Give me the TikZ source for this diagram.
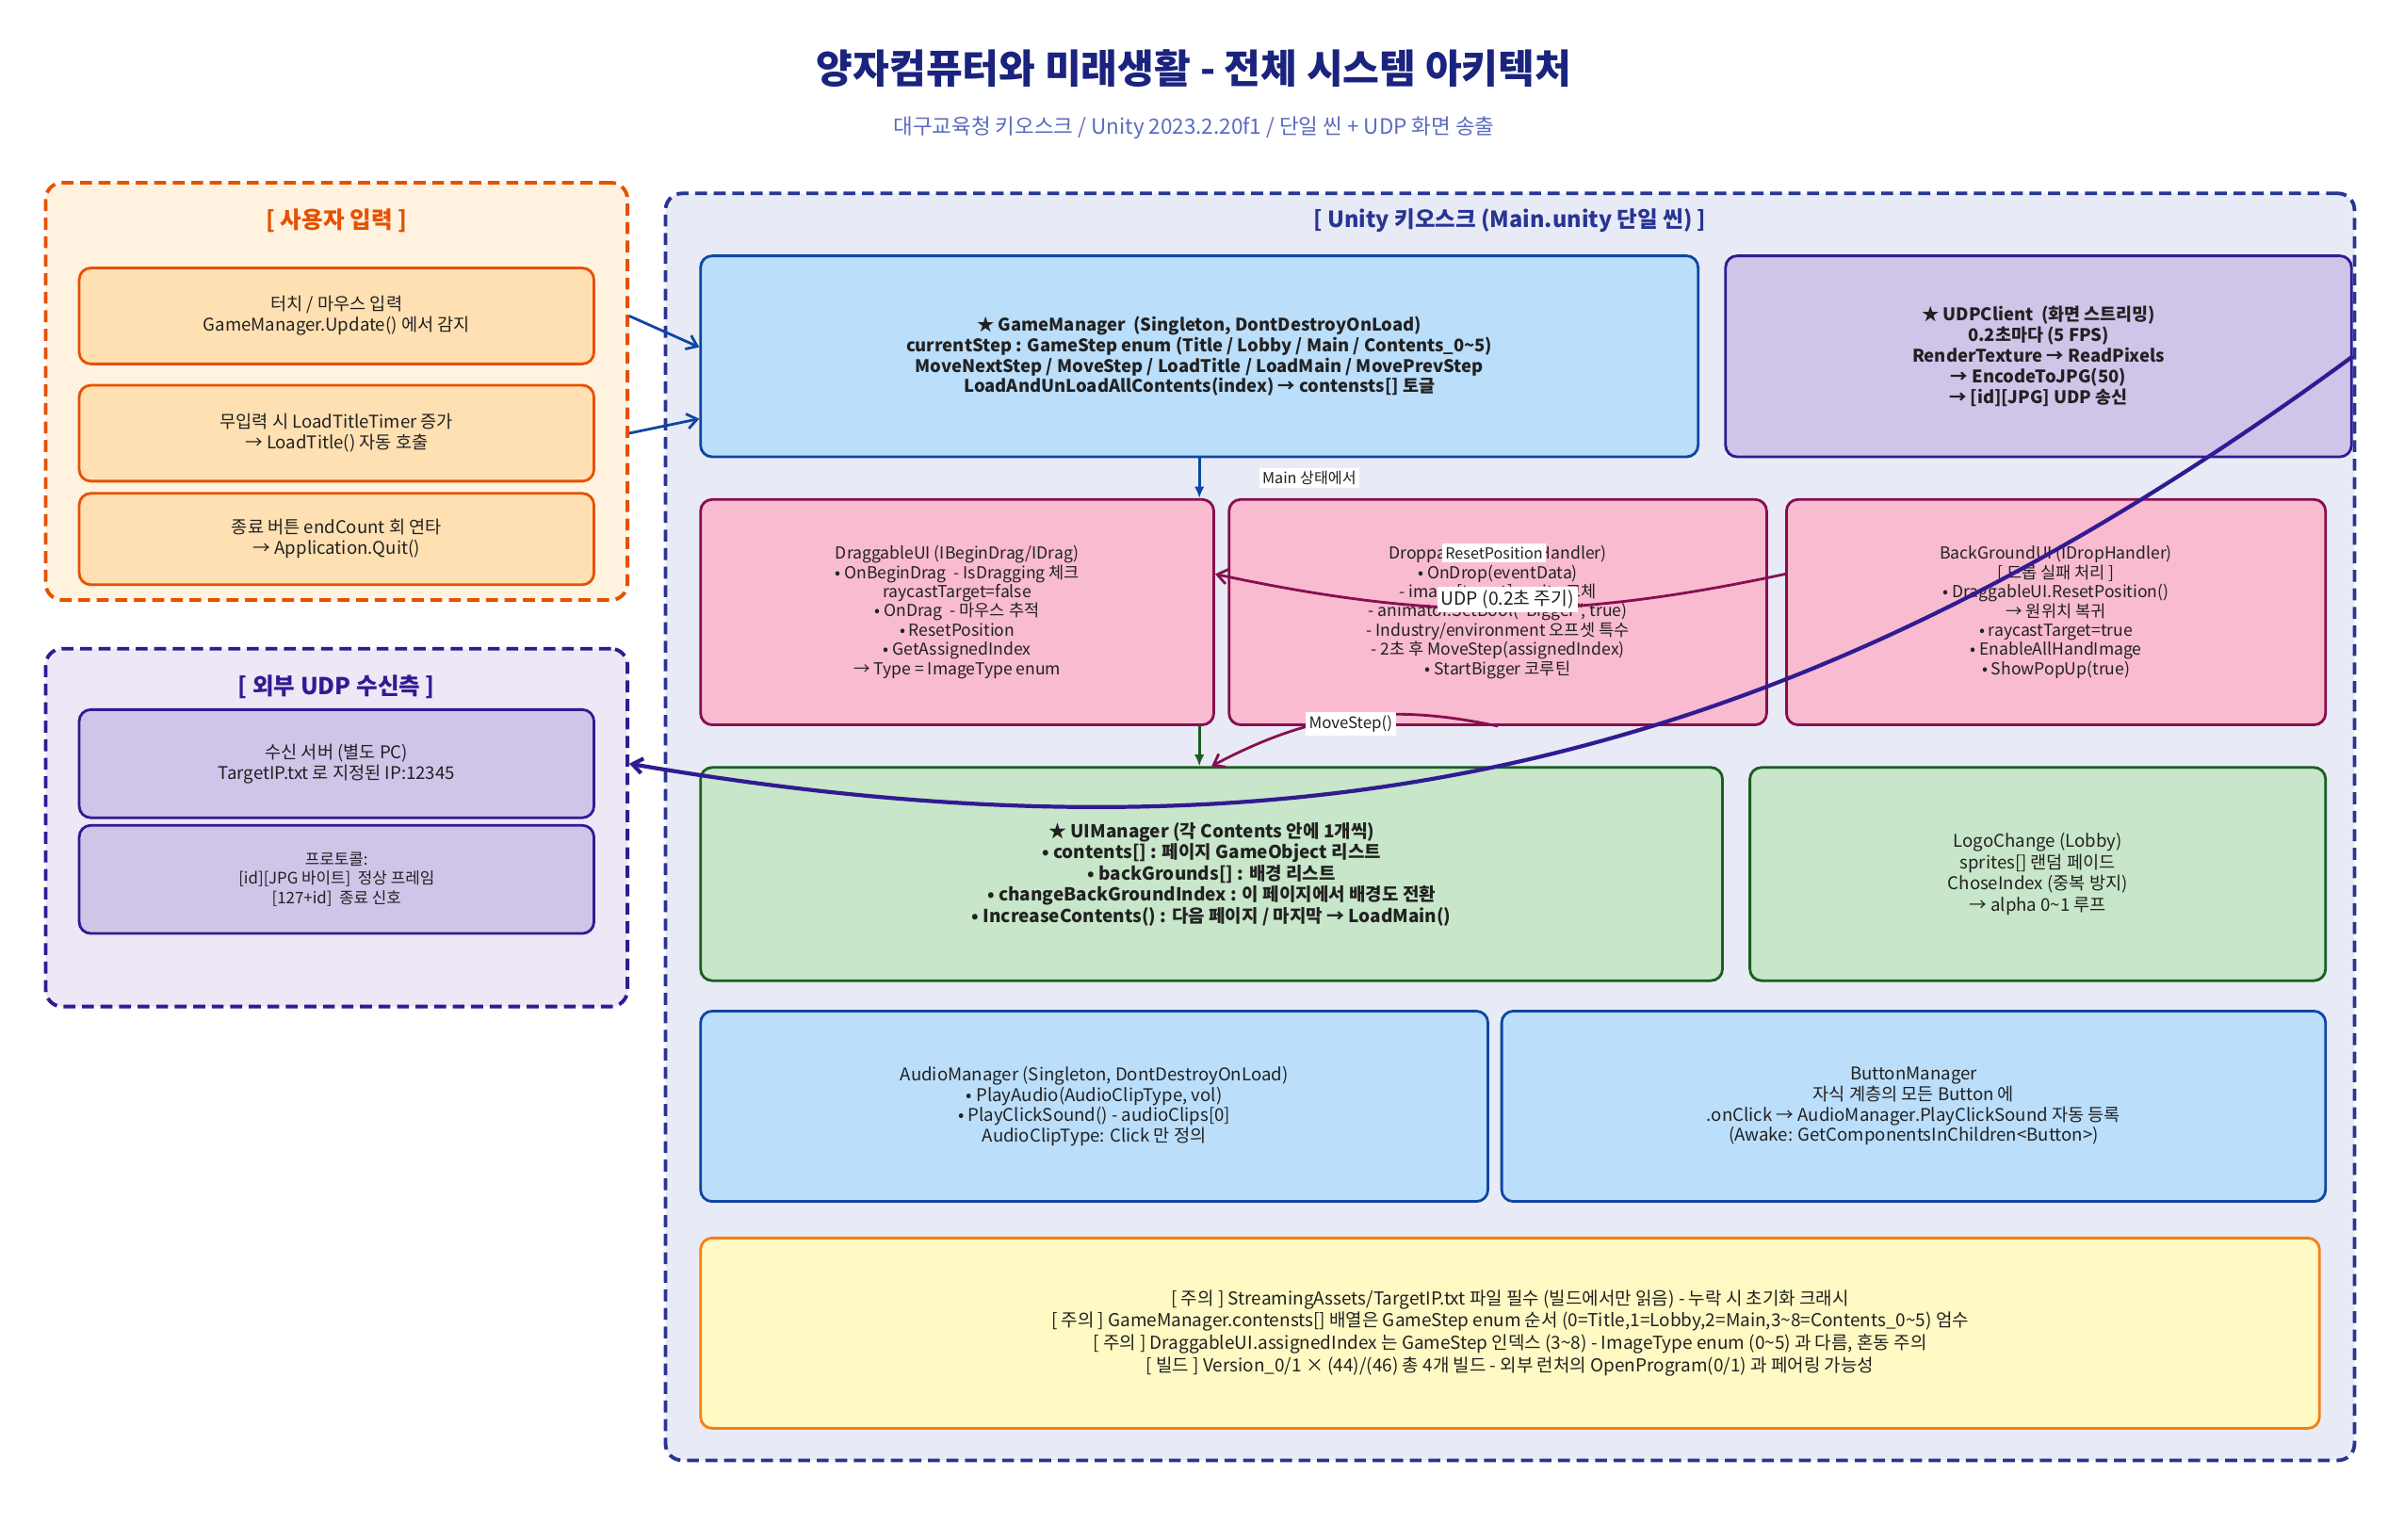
\documentclass[tikz,border=0pt]{standalone}
\usepackage{fontspec}
\setmainfont{Noto Sans CJK KR}
\usetikzlibrary{arrows.meta, calc, positioning}

\definecolor{ink}{HTML}{212121}
\definecolor{ttl}{HTML}{1A237E}
\definecolor{sub}{HTML}{5C6BC0}
\definecolor{orline}{HTML}{E65100}
\definecolor{orbg}{HTML}{FFF3E0}
\definecolor{orbox}{HTML}{FFE0B2}
\definecolor{rxline}{HTML}{311B92}
\definecolor{rxbg}{HTML}{EDE7F6}
\definecolor{rxbox}{HTML}{D1C4E9}
\definecolor{unline}{HTML}{283593}
\definecolor{unbg}{HTML}{E8EAF6}
\definecolor{bluefill}{HTML}{BBDEFB}
\definecolor{blueline}{HTML}{0D47A1}
\definecolor{pinkfill}{HTML}{F8BBD0}
\definecolor{pinkline}{HTML}{880E4F}
\definecolor{greenfill}{HTML}{C8E6C9}
\definecolor{greenline}{HTML}{1B5E20}
\definecolor{notefill}{HTML}{FFF9C4}
\definecolor{noteline}{HTML}{F57F17}

\tikzset{
  wh/.style 2 args={minimum width=#1*0.016167cm, minimum height=#2*0.016167cm},
  grp/.style={draw, line width=1.1pt, dash pattern=on 3.6pt off 2pt, rounded corners=5pt, inner sep=0pt},
  gtitle/.style={font=\fontsize{7}{8}\selectfont\bfseries},
  box/.style={draw, line width=0.8pt, rounded corners=3.5pt, inner sep=0pt, align=center, text=ink,
    font=\fontsize{5.3}{6.2}\selectfont},
  bbox/.style={box, font=\fontsize{5.25}{6.2}\selectfont\bfseries},
  lbl/.style={fill=white, inner sep=1pt, text=ink, font=\fontsize{4.6}{5}\selectfont},
  arr/.style={line width=0.8pt, -{Straight Barb[length=3pt, width=4.5pt]}},
  varr/.style={line width=0.8pt, -{Latex[length=3.5pt, width=3pt]}},
}

\begin{document}
\begin{tikzpicture}[x=0.016167cm, y=-0.016167cm]
  \useasboundingbox[fill=white] (0,0) rectangle (1568,1011);

  % title
  \node[text=ttl, font=\fontsize{12}{14}\selectfont\bfseries] (title) at (784,45)
    {양자컴퓨터와 미래생활 - 전체 시스템 아키텍처};
  \node[text=sub, font=\fontsize{6.4}{7.4}\selectfont] (subtitle) at (784,84)
    {대구교육청 키오스크 / Unity 2023.2.20f1 / 단일 씬 + UDP 화면 송출};

  % user input group
  \node[grp, draw=orline, fill=orbg, wh={382}{274}] (ingrp) at (221,257) {};
  \node[gtitle, text=orline] (intitle) at (221,145) {[ 사용자 입력 ]};
  \node[box, fill=orbox, draw=orline, wh={338}{63}] (in1) at (221,207.5)
    {터치 / 마우스 입력\\GameManager.Update() 에서 감지};
  \node[box, fill=orbox, draw=orline, wh={338}{63}] (in2) at (221,284.5)
    {무입력 시 LoadTitleTimer 증가\\→ LoadTitle() 자동 호출};
  \node[box, fill=orbox, draw=orline, wh={338}{60}] (in3) at (221,354)
    {종료 버튼 endCount 회 연타\\→ Application.Quit()};

  % external udp receiver group
  \node[grp, draw=rxline, fill=rxbg, wh={382}{235}] (rxgrp) at (221,543.5) {};
  \node[gtitle, text=rxline] (rxtitle) at (221,451) {[ 외부 UDP 수신측 ]};
  \node[box, fill=rxbox, draw=rxline, wh={338}{71}] (rx1) at (221,501.5)
    {수신 서버 (별도 PC)\\TargetIP.txt 로 지정된 IP:12345};
  \node[box, fill=rxbox, draw=rxline, wh={338}{71}, font=\fontsize{4.8}{5.9}\selectfont] (rx2) at (221,577.5)
    {프로토콜:\\{[id][JPG 바이트]}\ \ 정상 프레임\\{[127+id]}\ \ 종료 신호};

  % unity kiosk group
  \node[grp, draw=unline, fill=unbg, wh={1109}{832}] (ungrp) at (991.5,543) {};
  \node[gtitle, text=unline, font=\fontsize{6.7}{8}\selectfont\bfseries] (untitle) at (991.5,145)
    {[ Unity 키오스크 (Main.unity 단일 씬) ]};

  \node[bbox, fill=bluefill, draw=blueline, wh={655}{132}] (gm) at (787.5,234)
    {★ GameManager\ \ (Singleton, DontDestroyOnLoad)\\
     currentStep : GameStep enum (Title / Lobby / Main / Contents\_0\textasciitilde{}5)\\
     MoveNextStep / MoveStep / LoadTitle / LoadMain / MovePrevStep\\
     LoadAndUnLoadAllContents(index) → contensts[] 토글};
  \node[bbox, fill=rxbox, draw=rxline, wh={411}{132}] (udp) at (1338.5,234)
    {★ UDPClient\ \ (화면 스트리밍)\\0.2초마다 (5 FPS)\\RenderTexture → ReadPixels\\
     → EncodeToJPG(50)\\→ [id][JPG] UDP 송신};

  \node[box, fill=pinkfill, draw=pinkline, wh={337}{148}, font=\fontsize{5}{5.8}\selectfont] (drag) at (628.5,402)
    {DraggableUI (IBeginDrag/IDrag)\\• OnBeginDrag\ \ - IsDragging 체크\\raycastTarget=false\\
     • OnDrag\ \ - 마우스 추적\\• ResetPosition\\• GetAssignedIndex\\→ Type = ImageType enum};
  \node[box, fill=pinkfill, draw=pinkline, wh={353}{148}, font=\fontsize{5}{5.8}\selectfont] (drop) at (983.5,402)
    {DroppableUI (IDropHandler)\\• OnDrop(eventData)\\- image[target].sprite 교체\\
     - animator.SetBool("Bigger", true)\\- Industry/environment 오프셋 특수\\
     - 2초 후 MoveStep(assignedIndex)\\• StartBigger 코루틴};
  \node[box, fill=pinkfill, draw=pinkline, wh={354}{148}, font=\fontsize{5}{5.8}\selectfont] (bg) at (1350,402)
    {BackGroundUI (IDropHandler)\\{[ 드롭 실패 처리 ]}\\• DraggableUI.ResetPosition()\\→ 원위치 복귀\\
     • raycastTarget=true\\• EnableAllHandImage\\• ShowPopUp(true)};

  \node[bbox, fill=greenfill, draw=greenline, wh={671}{140}, font=\fontsize{5.4}{6.4}\selectfont\bfseries] (uim) at (795.5,574)
    {★ UIManager (각 Contents 안에 1개씩)\\• contents[] : 페이지 GameObject 리스트\\
     • backGrounds[] : 배경 리스트\\• changeBackGroundIndex : 이 페이지에서 배경도 전환\\
     • IncreaseContents() : 다음 페이지 / 마지막 → LoadMain()};
  \node[box, fill=greenfill, draw=greenline, wh={378}{140}, font=\fontsize{5.3}{6.4}\selectfont] (logo) at (1338,574)
    {LogoChange (Lobby)\\sprites[] 랜덤 페이드\\ChoseIndex (중복 방지)\\→ alpha 0\textasciitilde{}1 루프};

  \node[box, fill=bluefill, draw=blueline, wh={517}{125}] (audio) at (718.5,726.5)
    {AudioManager (Singleton, DontDestroyOnLoad)\\• PlayAudio(AudioClipType, vol)\\
     • PlayClickSound() - audioClips[0]\\AudioClipType: Click 만 정의};
  \node[box, fill=bluefill, draw=blueline, wh={541}{125}] (btn) at (1256.5,726.5)
    {ButtonManager\\자식 계층의 모든 Button 에\\.onClick → AudioManager.PlayClickSound 자동 등록\\
     (Awake: GetComponentsInChildren<Button>)};

  \node[box, fill=notefill, draw=noteline, wh={1063}{125}, font=\fontsize{5.4}{6.8}\selectfont] (note) at (991.5,875.5)
    {[ 주의 ] StreamingAssets/TargetIP.txt 파일 필수 (빌드에서만 읽음) - 누락 시 초기화 크래시\\
     {[ 주의 ]} GameManager.contensts[] 배열은 GameStep enum 순서 (0=Title,1=Lobby,2=Main,3\textasciitilde{}8=Contents\_0\textasciitilde{}5) 엄수\\
     {[ 주의 ]} DraggableUI.assignedIndex 는 GameStep 인덱스 (3\textasciitilde{}8) - ImageType enum (0\textasciitilde{}5) 과 다름, 혼동 주의\\
     {[ 빌드 ]} Version\_0/1 × (44)/(46) 총 4개 빌드 - 외부 런처의 OpenProgram(0/1) 과 페어링 가능성};

  % input arrows
  \draw[arr, blueline] (ingrp.east |- in1.east) -- ($(gm.west)+(0,-6)$);
  \draw[arr, blueline] (ingrp.east |- in2.east) -- ($(gm.west)+(0,41)$);

  % vertical flow
  \draw[varr, blueline] (gm.south) -- (gm.south |- drag.north)
    node[midway, lbl, right=0.62cm] (mainlbl) {Main 상태에서};
  \draw[varr, greenline] (gm.south |- drag.south) -- (gm.south |- uim.north);

  % curved connectors
  \draw[arr, pinkline] (drop.south) to[bend right=20]
    node[lbl, pos=0.5, yshift=-2pt, font=\fontsize{4.8}{5}\selectfont] (movelbl) {MoveStep()} (uim.north);
  \draw[arr, pinkline] ($(bg.west)+(0,-25)$) to[bend left=12] ($(drag.east)+(0,-25)$);
  \node[lbl] (resetlbl) at ($(bg.west)!0.5!(drag.east)+(-4,-39)$) {ResetPosition};
  \draw[arr, rxline, line width=1.2pt] (udp.east) to[bend left=23] (rxgrp.east |- rx1.east);
  \node[lbl, font=\fontsize{5.5}{6}\selectfont] (udplbl) at ($(udp.east)!0.5!(rx1.east)+(22,26)$) {UDP (0.2초 주기)};
\end{tikzpicture}
\end{document}
